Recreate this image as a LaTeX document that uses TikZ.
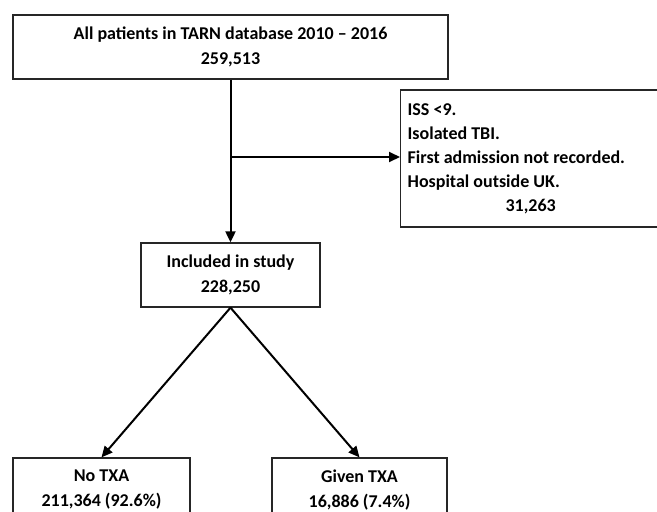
\documentclass[tikz,border=0pt]{standalone}
\usepackage{fontspec}
\setmainfont{Carlito}
\usetikzlibrary{arrows.meta}

\tikzset{
  box/.style={draw=black!85, line width=1.3pt, align=center, inner sep=0pt,
    font=\bfseries\fontsize{18}{25}\selectfont},
  link/.style={line width=2pt, -{Triangle[length=11pt,width=10pt]}}
}

\begin{document}
\begin{tikzpicture}[x=1pt, y=-1pt]
\useasboundingbox (0,0) rectangle (657,512);
\clip (0,0) rectangle (657,512);

\node[box, minimum width=435pt, minimum height=64pt] (all) at (230.5,47) {All patients in TARN database 2010 -- 2016\\259,513};
\node[box, minimum width=179pt, minimum height=64pt] (incl) at (230.5,275) {Included in study\\228,250};
\node[box, anchor=west, align=left, text width=246pt, inner xsep=7pt, minimum height=137pt,
  font=\bfseries\fontsize{18}{24}\selectfont] (excl) at (400,158.5)
  {\spaceskip=0pt\xspaceskip=0pt ISS <9.\\Isolated TBI.\\First admission not recorded.\\Hospital outside UK.\\\makebox[\linewidth]{31,263}};
\node[box, minimum width=177pt, minimum height=64pt] (notxa) at (101.5,490) {No TXA\\211,364 (92.6\%)};
\node[box, minimum width=175pt, minimum height=64pt] (txa) at (359.5,490) {Given TXA\\16,886 (7.4\%)};

% exclusions branch off the main line
\draw[link] (all.south) -- (incl.north);
\coordinate (split) at (230.5,157);
\draw[link] (split) -- (split -| excl.west);

% split by treatment
\draw[link] (incl.south) -- (notxa.north);
\draw[link] (incl.south) -- (txa.north);
\end{tikzpicture}
\end{document}
